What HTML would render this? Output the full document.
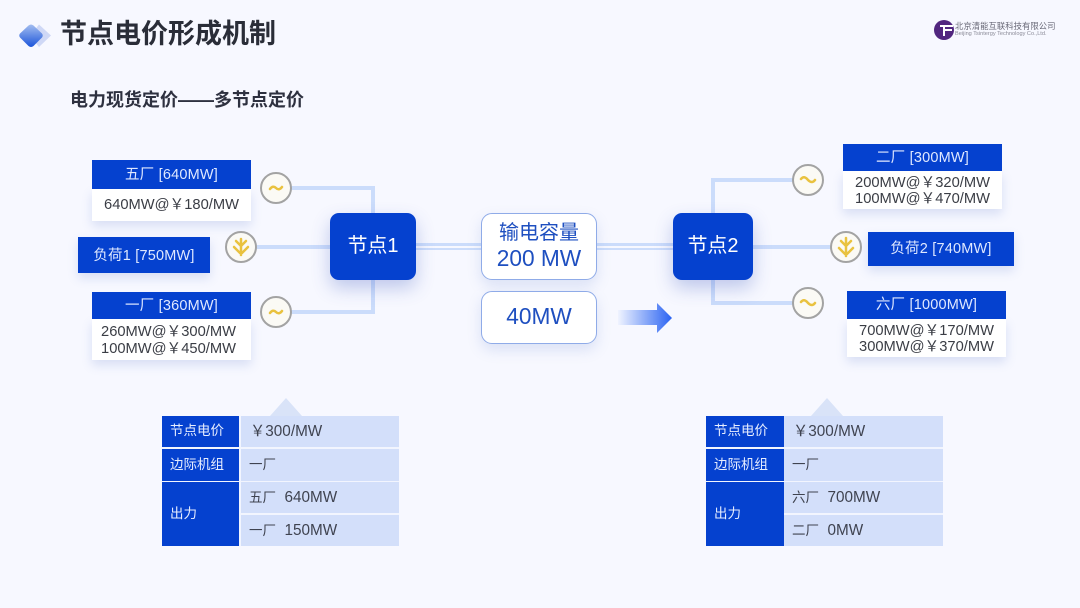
<!DOCTYPE html>
<html><head><meta charset="utf-8"><style>
html,body{margin:0;padding:0}
body{width:1080px;height:608px;overflow:hidden;background:#f7f8ff;position:relative;font-family:"Liberation Sans","Noto Sans CJK SC",sans-serif}
#w{position:absolute;left:0;top:0;width:1080px;height:608px;filter:blur(.35px)}
div{position:absolute;box-sizing:border-box;white-space:nowrap}
.h{background:#0541cf;color:#dfe8ff;font-size:14.500px;text-align:center;letter-spacing:.2px}
.b{background:#fff;color:#3a3d45;font-size:14.700px;line-height:16.500px;text-align:center;box-shadow:0 5px 10px rgba(90,120,200,.2)}
.n{background:#0541cf;border-radius:9px;color:#fff;font-size:20px;line-height:66px;text-align:center;box-shadow:0 8px 18px rgba(60,90,190,.3)}
.c{background:#fff;border:1.500px solid #8fabe8;border-radius:11px;color:#1e4fc0;font-size:22.700px;text-align:center;box-shadow:0 6px 14px rgba(90,120,200,.18)}
.l{background:#cbdcfb}
.t1{background:#0541cf;color:#e6edff;font-size:13.500px;padding-left:8px}
.t2{background:#d3dffa;color:#3f4350;font-size:15.300px;padding-left:9px}
.t2 span{font-size:13.500px}
</style></head><body><div id="w">

<svg style="position:absolute;left:0;top:0" width="1080" height="608">
<defs>
<linearGradient id="d" x1="0" y1="0" x2="0" y2="1"><stop offset="0" stop-color="#a3bdf0"/><stop offset="1" stop-color="#1c55da"/></linearGradient>
<linearGradient id="a" x1="0" y1="0" x2="1" y2="0"><stop offset="0" stop-color="#f0f4ff"/><stop offset="1" stop-color="#2a63f2"/></linearGradient>
</defs>
<path d="M39 24.500 L51 35.500 L39 47 L30 36Z" fill="#cfd8f6"/>
<path d="M31 24.500 Q30 24.500 28.500 25.500 L20 33.500 Q18.500 35.500 20 37.500 L28.500 46 Q31 48 33.500 46 L42 37.500 Q43.500 35.500 42 33.500 L33.500 25.500 Q32 24.500 31 24.500Z" fill="url(#d)"/>
<path d="M270 416 L286 398 L302 416Z" fill="#d9e3f8"/>
<path d="M811 416 L827 398 L843 416Z" fill="#d9e3f8"/>
<path d="M618 310 H657 V303 L672 318 L657 333 V325 H618Z" fill="url(#a)"/>
</svg>

<div style="left:60px;top:16px;font-size:27px;font-weight:bold;color:#2a2d38;line-height:36px">节点电价形成机制</div>
<div style="left:70px;top:88px;font-size:18px;font-weight:bold;color:#2e3140;line-height:25px">电力现货定价——多节点定价</div>

<div style="left:934px;top:20px;width:20px;height:20px;border-radius:50%;background:#51267f"></div>
<div style="left:940px;top:25px;width:13px;height:2px;background:#fff"></div>
<div style="left:943px;top:29px;width:9px;height:2px;background:#fff"></div>
<div style="left:943px;top:25px;width:2px;height:11px;background:#fff"></div>
<div style="left:955px;top:21px;font-size:8.400px;line-height:11px;color:#6a6a78">北京清能互联科技有限公司</div>
<div style="left:955px;top:30px;font-size:5.600px;line-height:8px;color:#8b8b98">Beijing Tsintergy Technology Co.,Ltd.</div>

<!-- left connectors -->
<div class="l" style="left:291px;top:186px;width:84px;height:4px"></div>
<div class="l" style="left:371px;top:186px;width:4px;height:28px"></div>
<div class="l" style="left:256px;top:245px;width:75px;height:4px"></div>
<div class="l" style="left:291px;top:310px;width:84px;height:4px"></div>
<div class="l" style="left:371px;top:279px;width:4px;height:35px"></div>
<!-- center -->
<div class="l" style="left:416px;top:243px;width:257px;height:2.500px"></div>
<div class="l" style="left:416px;top:247.500px;width:257px;height:2.500px"></div>
<!-- right connectors -->
<div class="l" style="left:711px;top:178px;width:82px;height:4px"></div>
<div class="l" style="left:711px;top:178px;width:4px;height:36px"></div>
<div class="l" style="left:753px;top:245px;width:78px;height:4px"></div>
<div class="l" style="left:711px;top:279px;width:4px;height:26px"></div>
<div class="l" style="left:711px;top:301px;width:82px;height:4px"></div>

<!-- left boxes -->
<div class="b" style="left:92px;top:189px;width:159px;height:32px;line-height:33px">640MW@￥180/MW</div>
<div class="h" style="left:92px;top:160px;width:159px;height:29px;line-height:30px">五厂 [640MW]</div>
<div class="h" style="left:78px;top:237px;width:132px;height:36px;line-height:38px;box-shadow:0 5px 10px rgba(90,120,200,.2)">负荷1 [750MW]</div>
<div class="b" style="left:92px;top:319px;width:159px;height:41px;padding-top:5px;padding-right:6px">260MW@￥300/MW<br>100MW@￥450/MW</div>
<div class="h" style="left:92px;top:292px;width:159px;height:27px;line-height:29px">一厂 [360MW]</div>

<!-- nodes -->
<div class="n" style="left:330px;top:213px;width:86px;height:67px">节点1</div>
<div class="n" style="left:673px;top:213px;width:80px;height:67px">节点2</div>

<!-- center boxes -->
<div class="c" style="left:481px;top:213px;width:116px;height:67px;line-height:25px;padding-top:5px"><span style="font-size:20px">输电容量</span><br>200 MW</div>
<div class="c" style="left:481px;top:291px;width:116px;height:53px;line-height:49px">40MW</div>

<!-- right boxes -->
<div class="b" style="left:843px;top:171px;width:159px;height:38px;padding-top:3.500px">200MW@￥320/MW<br>100MW@￥470/MW</div>
<div class="h" style="left:843px;top:144px;width:159px;height:27px;line-height:28px">二厂 [300MW]</div>
<div class="h" style="left:868px;top:232px;width:146px;height:34px;line-height:35px;box-shadow:0 5px 10px rgba(90,120,200,.2)">负荷2 [740MW]</div>
<div class="b" style="left:847px;top:319px;width:159px;height:38px;padding-top:3.500px">700MW@￥170/MW<br>300MW@￥370/MW</div>
<div class="h" style="left:847px;top:291px;width:159px;height:28px;line-height:29px">六厂 [1000MW]</div>

<!-- icons -->
<svg style="position:absolute;left:0;top:0" width="1080" height="608" fill="none">
<g stroke="#a3a3a3" stroke-width="2" fill="#fbfaf5">
<circle cx="276" cy="188" r="15"/><circle cx="241" cy="247" r="15"/><circle cx="276" cy="312" r="15"/>
<circle cx="808" cy="180" r="15"/><circle cx="846" cy="247" r="15"/><circle cx="808" cy="303" r="15"/>
</g>
<g stroke="#e9c23f" stroke-width="2.500" stroke-linecap="round">
<path d="M270 189 Q273 185 276 188 Q279 191 282 187"/>
<path d="M270 313 Q273 309 276 312 Q279 315 282 311"/>
<path d="M801 179 Q804 175 808 180 Q812 184 815 180"/>
<path d="M801 302 Q804 298 808 303 Q812 307 815 303"/>
<path d="M241 239 V255 M236 241 L241 246 L246 241 M234 247 L241 254 L248 247"/>
<path d="M846 238 V256 M841 241 L846 246 L851 241 M839 248 L846 255 L853 248"/>
</g>
</svg>

<!-- left table -->
<div style="left:162px;top:416px;width:237px;height:130px;background:#f2f5fe"></div>
<div class="t1" style="left:162px;top:416px;width:77px;height:31px;line-height:30px">节点电价</div>
<div class="t1" style="left:162px;top:449px;width:77px;height:32px;line-height:31px">边际机组</div>
<div class="t1" style="left:162px;top:482px;width:77px;height:64px;line-height:63px">出力</div>
<div class="t2" style="left:241px;top:416px;width:158px;height:31px;line-height:31px">￥300/MW</div>
<div class="t2" style="left:241px;top:449px;width:158px;height:32px;line-height:31px;padding-left:8px"><span>一厂</span></div>
<div class="t2" style="left:241px;top:482px;width:158px;height:31px;line-height:31px;padding-left:8px"><span>五厂</span>&nbsp;&nbsp;640MW</div>
<div class="t2" style="left:241px;top:515px;width:158px;height:31px;line-height:31px;padding-left:8px"><span>一厂</span>&nbsp;&nbsp;150MW</div>

<!-- right table -->
<div style="left:706px;top:416px;width:237px;height:130px;background:#f2f5fe"></div>
<div class="t1" style="left:706px;top:416px;width:78px;height:31px;line-height:30px">节点电价</div>
<div class="t1" style="left:706px;top:449px;width:78px;height:32px;line-height:31px">边际机组</div>
<div class="t1" style="left:706px;top:482px;width:78px;height:64px;line-height:63px">出力</div>
<div class="t2" style="left:784px;top:416px;width:159px;height:31px;line-height:31px">￥300/MW</div>
<div class="t2" style="left:784px;top:449px;width:159px;height:32px;line-height:31px;padding-left:8px"><span>一厂</span></div>
<div class="t2" style="left:784px;top:482px;width:159px;height:31px;line-height:31px;padding-left:8px"><span>六厂</span>&nbsp;&nbsp;700MW</div>
<div class="t2" style="left:784px;top:515px;width:159px;height:31px;line-height:31px;padding-left:8px"><span>二厂</span>&nbsp;&nbsp;0MW</div>

</div></body></html>
